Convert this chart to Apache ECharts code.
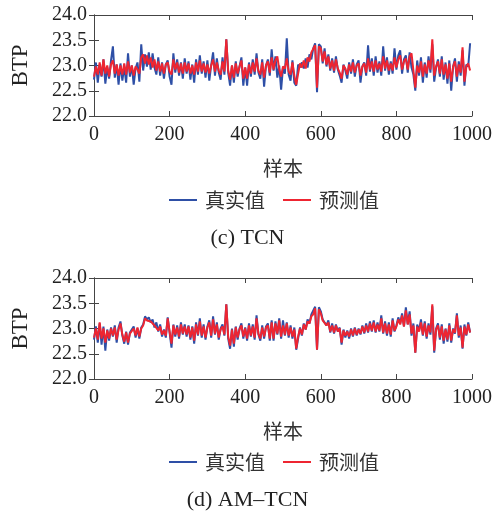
<!DOCTYPE html>
<html>
<head>
<meta charset="utf-8">
<script src="https://cdn.jsdelivr.net/npm/echarts@6/dist/echarts.min.js"></script>
<style>
    html, body { margin: 0; padding: 0; background: #fff; }
    #btp-map { width: 495px; height: 513px; }
</style>
</head>
<body>
<div id="btp-map"></div>
<script>
// 采样间隔（样本号）
const STEP = 5;
const xTicks = [0, 1000, 200];       // min, max, interval
const yTicks = [22, 24, 0.5];
const seriesNames = ['真实值', '预测值'];
const panelTitles = ['(c) TCN', '(d) AM\u2013TCN'];

// (c) TCN
const tcnTrue = [
    22.72, 23.06, 22.66, 23.00, 22.78, 23.12, 22.64, 22.96, 22.74, 23.10,
    23.38, 22.76, 23.02, 22.62, 23.04, 22.70, 22.98, 22.66, 23.24, 22.78,
    23.00, 22.62, 22.94, 23.06, 22.68, 23.42, 22.90, 23.22, 22.98, 23.26,
    22.92, 23.24, 22.96, 22.82, 23.16, 22.80, 23.06, 22.74, 23.02, 23.10,
    22.78, 22.62, 23.24, 22.86, 23.12, 22.80, 23.06, 22.74, 23.14, 22.84,
    23.08, 22.72, 23.02, 22.66, 23.12, 22.82, 23.20, 22.84, 23.08, 22.76,
    23.10, 22.70, 23.00, 23.26, 22.80, 23.14, 22.86, 22.72, 23.16, 22.82,
    23.52, 22.86, 22.60, 23.00, 22.66, 23.08, 22.78, 22.98, 23.16, 22.60,
    22.96, 22.60, 23.06, 22.78, 23.12, 22.82, 23.24, 22.86, 22.74, 23.12,
    22.58, 23.00, 23.12, 22.80, 23.32, 22.90, 23.18, 22.76, 23.00, 22.52,
    22.96, 22.84, 23.54, 22.82, 22.70, 23.10, 22.66, 22.60, 23.02, 22.96,
    23.06, 22.94, 23.14, 22.96, 23.22, 23.12, 23.34, 23.44, 22.47, 23.42,
    23.38, 23.04, 23.34, 22.98, 23.22, 22.90, 23.14, 22.86, 23.18, 22.92,
    22.80, 22.66, 23.02, 22.90, 22.74, 23.06, 22.84, 23.12, 22.78, 23.02,
    23.10, 22.66, 22.98, 23.06, 22.80, 23.40, 22.88, 23.14, 22.80, 23.18,
    22.86, 23.08, 22.80, 23.38, 22.90, 23.16, 22.82, 23.08, 22.84, 23.34,
    22.92, 23.20, 23.30, 22.84, 23.12, 23.20, 22.86, 23.26, 22.96, 22.82,
    22.50, 23.10, 22.80, 23.16, 22.66, 23.06, 22.76, 23.18, 22.86, 23.42,
    22.68, 22.96, 23.12, 22.78, 23.18, 22.72, 23.06, 22.64, 23.10, 22.50,
    22.98, 23.14, 22.68, 23.08, 22.80, 23.30, 22.60, 23.02, 22.98, 23.44
];
const tcnPred = [
    22.78, 22.98, 22.82, 23.06, 22.80, 23.12, 22.84, 23.00, 22.78, 23.02,
    23.10, 22.84, 23.02, 22.80, 23.00, 22.82, 23.04, 22.82, 23.08, 22.86,
    23.00, 22.80, 22.98, 22.92, 22.84, 23.16, 23.22, 23.04, 23.20, 23.02,
    23.16, 22.96, 23.12, 22.90, 23.08, 22.88, 23.04, 22.84, 23.02, 23.06,
    22.88, 22.82, 23.12, 22.92, 23.06, 22.86, 23.04, 22.84, 23.06, 22.88,
    23.04, 22.84, 23.00, 22.82, 23.06, 22.88, 23.10, 22.88, 23.04, 22.86,
    23.02, 22.84, 23.00, 23.12, 22.88, 23.06, 22.90, 22.82, 23.08, 22.88,
    23.52, 22.90, 22.72, 23.00, 22.76, 23.04, 22.84, 22.98, 23.10, 22.74,
    22.96, 22.74, 23.02, 22.84, 23.06, 22.88, 23.14, 22.90, 22.82, 23.06,
    22.76, 23.00, 23.08, 22.86, 23.16, 22.92, 23.10, 23.18, 22.92, 22.78,
    22.98, 22.94, 23.14, 22.88, 22.82, 23.06, 22.80, 22.62, 22.84, 23.04,
    22.96, 23.10, 22.94, 23.16, 23.08, 23.26, 23.28, 23.40, 22.56, 23.38,
    23.34, 23.08, 23.28, 23.02, 23.18, 22.94, 23.10, 22.90, 23.12, 22.94,
    22.86, 22.74, 23.00, 22.94, 22.82, 23.02, 22.88, 23.06, 22.86, 23.00,
    23.04, 22.80, 22.98, 23.04, 22.86, 23.14, 22.92, 23.08, 22.88, 23.10,
    22.92, 23.04, 22.88, 23.18, 22.94, 23.10, 22.90, 23.04, 22.90, 23.16,
    22.96, 23.12, 23.20, 22.92, 23.08, 23.14, 22.92, 23.18, 23.24, 22.90,
    22.56, 23.00, 22.86, 23.08, 22.78, 23.02, 22.84, 23.10, 22.92, 23.52,
    22.80, 22.98, 23.08, 22.84, 23.12, 22.82, 23.02, 22.74, 23.04, 22.68,
    22.98, 23.08, 22.78, 23.02, 22.86, 23.36, 22.68, 22.98, 23.04, 22.90
];

// (d) AM-TCN
const amTrue = [
    22.78, 23.04, 22.72, 23.10, 22.68, 23.04, 22.56, 22.98, 22.76, 23.02,
    22.84, 23.06, 22.72, 23.02, 23.14, 22.86, 22.70, 22.94, 22.68, 22.92,
    22.90, 23.04, 22.82, 23.00, 22.80, 23.02, 23.08, 23.24, 23.18, 23.22,
    23.12, 23.18, 23.02, 23.12, 22.94, 23.08, 22.84, 22.98, 22.82, 23.22,
    22.92, 22.62, 23.08, 22.84, 23.06, 22.80, 23.12, 22.88, 23.08, 22.84,
    23.06, 22.78, 23.04, 22.70, 23.12, 22.86, 23.20, 22.82, 23.08, 22.78,
    23.04, 23.16, 22.82, 23.24, 22.88, 23.12, 22.78, 23.00, 23.08, 22.86,
    23.48, 22.80, 22.60, 23.00, 22.64, 23.04, 22.78, 23.00, 23.10, 22.80,
    23.02, 22.76, 23.10, 22.84, 23.08, 22.78, 23.26, 22.88, 22.76, 23.06,
    22.80, 23.04, 23.10, 22.76, 23.16, 22.76, 23.14, 22.88, 23.20, 22.80,
    23.16, 22.86, 23.12, 22.82, 23.06, 22.80, 23.02, 22.58, 22.80, 23.02,
    22.86, 23.10, 22.98, 23.18, 23.10, 23.28, 23.30, 23.43, 22.58, 23.42,
    23.34, 23.18, 23.20, 23.06, 23.16, 22.92, 23.10, 22.90, 23.08, 22.94,
    23.02, 22.68, 22.98, 22.82, 22.96, 22.80, 23.00, 22.84, 23.02, 22.86,
    23.00, 22.88, 23.06, 22.90, 23.10, 22.92, 23.14, 22.94, 23.16, 22.92,
    23.12, 22.94, 23.26, 22.90, 23.14, 22.86, 23.12, 22.84, 23.20, 22.94,
    23.06, 23.22, 23.10, 23.30, 23.04, 23.42, 23.08, 23.34, 22.86, 23.10,
    22.52, 23.08, 22.96, 23.18, 22.86, 23.14, 22.80, 23.10, 22.88, 23.44,
    22.52, 23.00, 23.10, 22.78, 23.08, 22.70, 23.00, 22.74, 23.10, 22.72,
    23.00, 22.90, 23.30, 22.82, 23.06, 22.60, 23.08, 22.86, 23.12, 22.92
];
const amPred = [
    22.82, 23.00, 22.78, 23.12, 22.80, 23.00, 22.72, 22.96, 22.80, 23.00,
    22.86, 23.02, 22.78, 22.98, 23.10, 22.88, 22.74, 22.92, 22.72, 22.90,
    22.92, 23.00, 22.86, 23.02, 22.84, 23.00, 23.06, 23.20, 23.16, 23.18,
    23.14, 23.12, 23.06, 23.08, 22.96, 23.04, 22.88, 22.96, 22.86, 23.20,
    22.94, 22.70, 23.06, 22.88, 23.02, 22.84, 23.08, 22.90, 23.04, 22.88,
    23.04, 22.82, 23.02, 22.76, 23.08, 22.88, 23.14, 22.86, 23.04, 22.82,
    23.02, 23.12, 22.86, 23.18, 22.90, 23.08, 22.82, 22.98, 23.04, 22.88,
    23.48, 22.84, 22.66, 22.98, 22.70, 23.02, 22.82, 22.98, 23.06, 22.84,
    23.00, 22.80, 23.06, 22.86, 23.04, 22.82, 23.20, 22.90, 22.80, 23.02,
    22.84, 23.02, 23.06, 22.80, 23.12, 22.80, 23.10, 22.90, 23.16, 22.84,
    23.06, 22.88, 23.10, 22.86, 23.02, 22.84, 22.98, 22.60, 22.84, 23.00,
    22.88, 23.08, 22.98, 23.14, 23.10, 23.24, 23.28, 23.40, 22.58, 23.38,
    23.30, 23.16, 23.16, 23.06, 23.12, 22.94, 23.06, 22.92, 23.06, 22.94,
    23.00, 22.72, 22.96, 22.86, 22.94, 22.84, 22.98, 22.86, 23.00, 22.88,
    22.98, 22.90, 23.04, 22.92, 23.06, 22.94, 23.10, 22.96, 23.12, 22.94,
    23.08, 22.96, 23.20, 22.92, 23.10, 22.90, 23.08, 22.88, 23.16, 22.96,
    23.04, 23.18, 23.08, 23.26, 23.04, 23.36, 23.08, 23.28, 22.90, 23.06,
    22.52, 23.04, 22.94, 23.12, 22.88, 23.10, 22.84, 23.06, 22.92, 23.48,
    22.56, 22.98, 23.06, 22.82, 23.04, 22.76, 22.98, 22.78, 23.06, 22.76,
    22.98, 22.92, 23.26, 22.86, 23.02, 22.62, 23.04, 22.88, 23.08, 22.92
];

const colors = ['#2e4fa6', '#ee2531'];
const serif = '"Liberation Serif", "Times New Roman", serif';
const cjk = '"Noto Sans CJK SC", sans-serif';
const axisColor = '#444';
const textColor = '#222';

// 每个子图的位置
const panels = [
    {top: 15, legendTop: 185, titleTop: 227, data: [tcnTrue, tcnPred]},
    {top: 278, legendTop: 447, titleTop: 489, data: [amTrue, amPred]}
];

let toPoints = (arr) => arr.map((v, i) => [i * STEP, v]);

let option = {
    animation: false,
    backgroundColor: '#fff',
    title: [],
    legend: [],
    grid: [],
    xAxis: [],
    yAxis: [],
    series: []
};

panels.forEach((p, k) => {
    option.grid.push({left: 94, top: p.top, width: 378, height: 101, containLabel: false});
    option.title.push({
        text: panelTitles[k],
        left: 'center',
        top: p.titleTop,
        padding: 0,
        textStyle: {fontFamily: serif, fontSize: 22, fontWeight: 'normal', color: textColor}
    });
    option.legend.push({
        data: seriesNames,
        left: 164,
        top: p.legendTop,
        icon: 'rect',
        itemWidth: 28,
        itemHeight: 2,
        itemGap: 18,
        selectedMode: false,
        textStyle: {fontFamily: cjk, fontSize: 20, color: '#333', padding: [0, 0, 0, 3]}
    });
    // 下轴和上轴（上轴只画刻度）
    option.xAxis.push({
        gridIndex: k,
        type: 'value',
        min: xTicks[0],
        max: xTicks[1],
        interval: xTicks[2],
        name: '样本',
        nameLocation: 'middle',
        nameGap: 42,
        nameTextStyle: {fontFamily: cjk, fontSize: 20, color: '#333'},
        axisLine: {lineStyle: {color: axisColor}},
        axisTick: {inside: true, length: 5, lineStyle: {color: axisColor}},
        axisLabel: {margin: 9, fontFamily: serif, fontSize: 20, color: textColor,
            formatter: (v) => String(v)},
        splitLine: {show: false}
    });
    option.xAxis.push({
        gridIndex: k,
        type: 'value',
        position: 'top',
        min: xTicks[0],
        max: xTicks[1],
        interval: xTicks[2],
        axisLine: {lineStyle: {color: axisColor}},
        axisTick: {inside: true, length: 5, lineStyle: {color: axisColor}},
        axisLabel: {show: false},
        splitLine: {show: false}
    });
    option.yAxis.push({
        gridIndex: k,
        type: 'value',
        min: yTicks[0],
        max: yTicks[1],
        interval: yTicks[2],
        name: 'BTP',
        nameLocation: 'middle',
        nameRotate: 90,
        nameGap: 62,
        nameTextStyle: {fontFamily: serif, fontSize: 23, color: textColor},
        axisLine: {show: true, lineStyle: {color: axisColor}},
        axisTick: {show: true, inside: true, length: 5, lineStyle: {color: axisColor}},
        axisLabel: {margin: 7, fontFamily: serif, fontSize: 20, color: textColor,
            formatter: (v) => v.toFixed(1)},
        splitLine: {show: false}
    });
    option.yAxis.push({
        gridIndex: k,
        type: 'value',
        position: 'right',
        min: yTicks[0],
        max: yTicks[1],
        interval: yTicks[2],
        axisLine: {show: true, lineStyle: {color: axisColor}},
        axisTick: {show: true, inside: true, length: 5, lineStyle: {color: axisColor}},
        axisLabel: {show: false},
        splitLine: {show: false}
    });
    p.data.forEach((arr, j) => {
        option.series.push({
            name: seriesNames[j],
            type: 'line',
            xAxisIndex: k * 2,
            yAxisIndex: k * 2,
            data: toPoints(arr),
            showSymbol: false,
            symbol: 'none',
            sampling: null,
            color: colors[j],
            lineStyle: {color: colors[j], width: 2},
            z: 2 + j
        });
    });
});

let btpMap = echarts.init(document.getElementById('btp-map'));
btpMap.setOption(option);
</script>
</body>
</html>
